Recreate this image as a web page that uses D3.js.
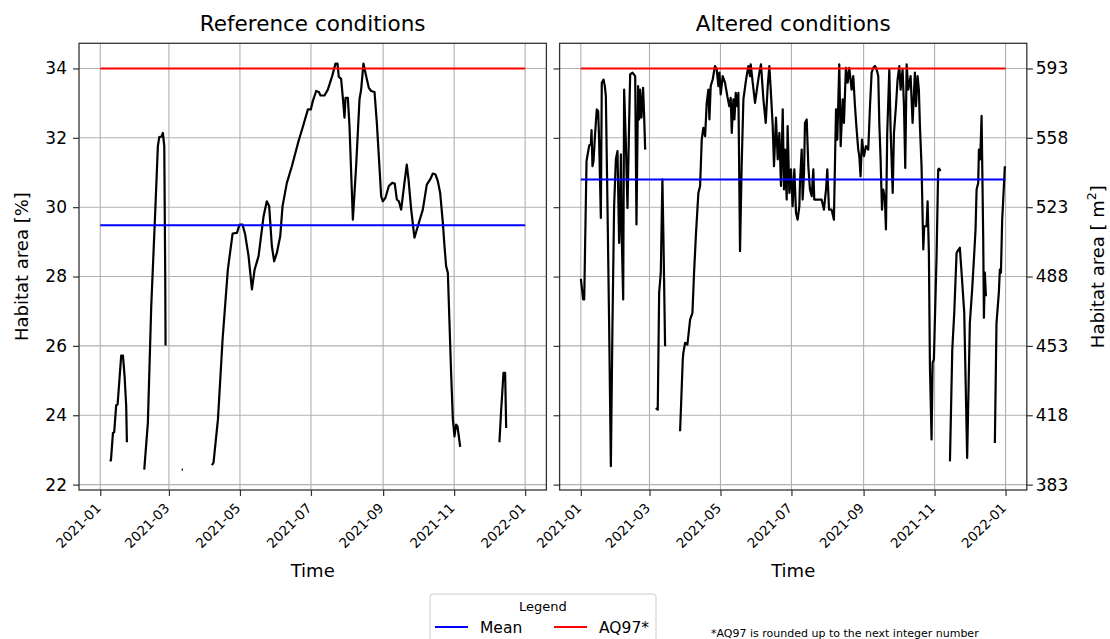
<!DOCTYPE html>
<html>
<head>
<meta charset="utf-8">
<script src="https://cdn.jsdelivr.net/npm/d3@7"></script>
<style>
  body { margin: 0; background: #fff; }
  text { font-family: 'DejaVu Sans', sans-serif; fill: #000; }
</style>
</head>
<body>
<script>
// day offsets from 2021-01-01 and habitat area [%], one array per unbroken stretch of the series
const refSegments = [
  [[8.0,22.70],[9.2,22.70],[10.9,23.49],[12.0,23.51],[13.7,24.29],[14.9,24.31],[18.0,25.72],[19.5,25.72],[20.9,25.13],[22.3,24.26],[22.9,23.22]],
  [[37.8,22.43],[40.9,23.78],[43.8,27.14],[47.2,29.84],[49.5,31.76],[50.7,32.02],[52.7,32.04],[53.8,32.14],[55.0,31.76],[55.8,28.11],[56.1,26.01]],
  [[70.0,22.43],[71.0,22.43]],
  [[95.9,22.56],[97.3,22.63],[101.1,23.88],[105.1,26.19],[109.6,28.20],[113.7,29.24],[117.4,29.26],[119.7,29.50],[122.2,29.50],[124.5,29.21],
   [127.4,28.59],[130.3,27.63],[132.6,28.20],[136.0,28.59],[140.3,29.74],[143.1,30.17],[145.1,30.03],[147.4,28.88],[149.4,28.44],[151.7,28.68],
   [154.6,29.16],[156.6,30.03],[160.3,30.70],[164.6,31.18],[170.3,31.90],[173.8,32.29],[178.4,32.82],[180.9,32.82],[182.6,33.06],[185.5,33.35],
   [187.8,33.32],[189.2,33.22],[192.6,33.22],[195.5,33.39],[199.2,33.78],[202.1,34.14],[203.8,34.14],[204.9,33.76],[206.9,33.70],[208.4,33.15],
   [209.8,32.58],[210.7,33.15],[212.7,33.15],[214.1,32.34],[217.0,29.64],[219.8,31.18],[222.7,33.11],[224.1,33.39],[226.1,34.14],[228.4,33.78],
   [230.7,33.44],[232.7,33.35],[235.6,33.32],[237.6,32.43],[239.3,31.47],[241.3,30.32],[242.7,30.17],[245.0,30.27],[247.9,30.61],[250.8,30.70],
   [253.0,30.68],[254.8,30.22],[256.5,30.17],[258.5,29.93],[261.3,30.70],[263.3,31.23],[264.8,30.80],[267.1,29.93],[269.9,29.12],[272.8,29.45],
   [277.1,29.93],[280.5,30.65],[283.4,30.80],[285.7,30.97],[288.0,30.94],[290.0,30.75],[292.0,30.41],[294.3,29.55],[295.7,28.88],[297.1,28.30],
   [298.6,28.11],[300.0,26.66],[301.4,25.22],[302.9,23.88],[304.3,23.39],[305.7,23.73],[306.9,23.68],[309.2,23.09]],
  [[342.9,23.22],[344.4,24.16],[346.4,25.22],[347.8,25.22],[348.7,23.63]]
];

const altSegments = [
  [[0,27.93],[2.0,27.34],[2.9,27.34],[4.9,31.33],[7.2,31.78],[8.6,31.81],[9.2,32.22],[10.0,31.18],[10.9,31.33],[12.3,32.14],
   [13.7,32.82],[14.9,32.77],[15.7,31.95],[17.2,29.69],[18.0,33.59],[19.5,33.68],[20.6,33.49],[21.5,33.20],[22.9,30.03],[24.3,26.66],
   [25.8,22.53],[27.2,26.66],[28.6,30.03],[30.1,31.38],[31.5,31.62],[32.9,28.97],[33.8,30.03],[34.4,31.52],[35.2,29.07],[36.4,27.34],
   [37.2,33.39],[38.6,31.95],[40.1,29.98],[41.5,32.43],[42.4,33.83],[44.4,33.88],[46.7,33.78],[47.8,29.50],[49.2,33.49],[50.1,32.53],
   [50.9,33.39],[52.1,32.58],[53.5,33.44],[54.4,32.63],[55.3,31.66]],
  [[64.4,24.21],[66.1,24.16],[67.3,27.53],[68.7,28.11],[70.1,30.80],[71.0,29.07],[72.4,25.99]],
  [[85.3,23.54],[87.6,25.61],[88.1,25.80],[89.6,26.09],[91.6,26.04],[93.9,26.76],[95.9,26.95],[97.3,28.11],[99.0,29.26],[101.0,30.41],
   [102.5,30.61],[103.9,31.95],[105.3,32.29],[106.8,32.05],[108.2,33.01],[109.6,33.39],[110.5,32.53],[111.6,33.49],[113.3,33.68],[115.3,34.07],
   [116.8,33.97],[118.2,33.49],[119.1,33.88],[120.2,33.25],[121.9,33.78],[123.9,33.59],[125.9,33.20],[127.6,32.91],[128.8,33.15],[129.7,32.14],
   [131.1,33.11],[132.0,32.53],[133.1,33.30],[134.5,32.91],[135.4,33.30],[136.8,28.73],[138.2,31.18],[139.7,33.11],[142.0,33.68],[144.0,34.07],
   [145.4,33.78],[146.0,34.12],[147.7,33.59],[149.7,33.01],[151.7,33.49],[153.4,33.88],[154.8,34.12],[156.9,33.11],[158.9,32.43],[160.6,33.49],
   [162.0,34.07],[163.2,33.39],[164.9,32.34],[166.0,31.18],[167.7,32.58],[169.2,31.38],[170.6,32.14],[172.0,30.61],[173.5,32.82],[174.6,30.51],
   [175.5,31.66],[176.9,30.22],[177.7,32.34],[179.2,30.41],[180.6,31.09],[182.0,30.03],[183.5,31.09],[184.9,29.84],[186.3,29.64],[187.8,30.03],
   [188.3,30.70],[189.8,31.66],[190.6,30.22],[191.8,30.99],[192.6,32.43],[194.1,32.53],[195.5,31.18],[196.9,30.51],[198.4,30.32],[199.8,31.09],
   [200.6,30.22],[204.1,30.22],[206.9,30.22],[208.9,29.93],[210.7,30.51],[211.8,31.09],[213.3,29.93],[215.5,29.93],[217.5,29.64],[218.4,31.28],
   [219.3,32.82],[220.4,31.95],[222.1,34.12],[223.3,31.76],[225.0,33.11],[226.1,32.43],[227.8,34.02],[229.3,33.59],[230.7,34.02],[232.7,33.39],
   [234.1,33.78],[235.6,32.91],[237.0,32.24],[238.4,31.66],[239.3,31.47],[240.4,30.89],[241.6,31.95],[243.3,31.47],[245.0,31.76],[247.0,31.66],
   [248.5,32.91],[249.9,33.88],[251.3,34.02],[252.8,34.07],[254.2,33.97],[255.6,33.78],[256.5,32.43],[257.6,31.38],[258.8,29.93],[259.9,30.51],
   [261.3,30.22],[262.2,29.36],[263.3,32.14],[265.1,33.97],[266.2,32.24],[268.0,30.41],[269.1,32.14],[270.8,32.91],[272.2,33.68],[273.7,34.07],
   [274.8,33.39],[276.5,33.97],[277.7,32.91],[278.8,31.13],[280.0,34.12],[281.4,33.39],[283.4,33.78],[285.1,32.43],[287.1,33.88],[288.0,32.91],
   [289.4,33.78],[290.5,33.39],[291.4,32.34],[292.8,31.18],[294.3,28.78],[295.1,29.45],[297.1,29.45],[298.0,30.17],[299.1,28.68],[300.0,25.41],
   [301.4,23.30],[302.3,25.51],[303.4,25.61],[305.7,28.59],[307.1,31.09],[308.0,31.11],[309.1,31.04]],
  [[317.2,22.67],[319.2,25.89],[320.9,26.95],[322.9,28.68],[324.3,28.76],[325.7,28.83],[327.2,28.11],[329.5,26.95],[332.0,22.77],[334.3,26.66],
   [336.3,27.63],[338.1,28.68],[339.2,29.36],[340.1,30.51],[341.5,30.70],[342.1,31.66],[343.2,31.38],[344.4,32.63],[345.8,29.07],[346.4,26.81],
   [347.2,28.11],[348.1,27.43]],
  [[355.8,23.20],[357.2,26.66],[359.2,27.53],[360.1,28.20],[361.0,28.11],[362.1,29.64],[363.0,30.22],[364.4,31.18]]
];

const refMean = 29.48;
const altMean = 30.80;
const aq97 = 34;
const yTicks = [22, 24, 26, 28, 30, 32, 34];
const altTickLabels = ['383', '418', '453', '488', '523', '558', '593'];
const panelTitles = ['Reference conditions', 'Altered conditions'];
const legendNames = ['Mean', 'AQ97*'];
const legendColors = ['#0000ff', '#ff0000'];

const width = 1110;
const height = 639;
const start = new Date(2021, 0, 1);
const dayToDate = d => new Date(start.getTime() + d * 864e5);

// create the svg element
const svg = d3.select('body')
  .append('svg')
  .attr('width', width)
  .attr('height', height);

// shared scales: x spans the year with 5% padding, y spans all values with 5% padding
const pad = 365 * 0.05;
const allValues = refSegments.concat(altSegments).flat().map(d => d[1]);
const yMin = d3.min(allValues), yMax = d3.max(allValues);
const yPad = (yMax - yMin) * 0.05;
const plotTop = 43.3, plotBottom = 490;

const yScale = d3.scaleLinear()
  .domain([yMin - yPad, yMax + yPad])
  .range([plotBottom, plotTop]);

function drawPanel(x0, x1, segments, mean, title, side) {
  const xScale = d3.scaleTime()
    .domain([dayToDate(-pad), dayToDate(365 + pad)])
    .range([x0, x1]);
  const xTicks = d3.timeMonth.every(2).range(new Date(2021, 0, 1), new Date(2022, 0, 2));

  const g = svg.append('g');

  // grid lines
  g.append('g')
    .selectAll('line')
    .data(xTicks)
    .join('line')
    .attr('x1', d => xScale(d)).attr('x2', d => xScale(d))
    .attr('y1', plotTop).attr('y2', plotBottom)
    .attr('stroke', '#b0b0b0').attr('stroke-width', 1.1);
  g.append('g')
    .selectAll('line')
    .data(yTicks)
    .join('line')
    .attr('x1', x0).attr('x2', x1)
    .attr('y1', d => yScale(d)).attr('y2', d => yScale(d))
    .attr('stroke', '#b0b0b0').attr('stroke-width', 1.1);

  // the series itself, one path per stretch
  const line = d3.line()
    .x(d => xScale(dayToDate(d[0])))
    .y(d => yScale(d[1]));
  g.append('g')
    .selectAll('path')
    .data(segments)
    .join('path')
    .attr('d', line)
    .attr('fill', 'none')
    .attr('stroke', '#000')
    .attr('stroke-width', 2.2)
    .attr('stroke-linejoin', 'round');

  // mean and AQ97 lines
  [[mean, legendColors[0]], [aq97, legendColors[1]]].forEach(([v, c]) => {
    g.append('line')
      .attr('x1', xScale(dayToDate(0))).attr('x2', xScale(dayToDate(365)))
      .attr('y1', yScale(v)).attr('y2', yScale(v))
      .attr('stroke', c).attr('stroke-width', 2);
  });

  // frame
  g.append('rect')
    .attr('x', x0).attr('y', plotTop)
    .attr('width', x1 - x0).attr('height', plotBottom - plotTop)
    .attr('fill', 'none').attr('stroke', '#333').attr('stroke-width', 1.3);

  // x axis
  const xAxis = d3.axisBottom(xScale)
    .tickValues(xTicks)
    .tickFormat(d3.timeFormat('%Y-%m'))
    .tickSize(6)
    .tickPadding(6);
  const xg = g.append('g')
    .attr('transform', `translate(0, ${plotBottom})`)
    .call(xAxis);
  xg.select('.domain').remove();
  xg.selectAll('line').attr('stroke', '#333').attr('stroke-width', 1.2);
  xg.selectAll('text')
    .style('font-size', '13.5px')
    .style('font-family', "'DejaVu Sans', sans-serif")
    .style('text-anchor', 'end')
    .attr('dy', null)
    .attr('y', 0)
    .attr('transform', 'translate(1, 19) rotate(-45)');

  // y axes: left side always has ticks, labels only on the outer side
  const yLeft = d3.axisLeft(yScale).tickValues(yTicks).tickSize(6).tickPadding(6)
    .tickFormat(side === 'left' ? d => d : () => '');
  const yl = g.append('g').attr('transform', `translate(${x0},0)`).call(yLeft);
  yl.select('.domain').remove();
  yl.selectAll('line').attr('stroke', '#333').attr('stroke-width', 1.2);
  yl.selectAll('text').style('font-size', '17px').style('font-family', "'DejaVu Sans', sans-serif");

  if (side === 'right') {
    const yRight = d3.axisRight(yScale).tickValues(yTicks).tickSize(6).tickPadding(3)
      .tickFormat((d, i) => altTickLabels[i]);
    const yr = g.append('g').attr('transform', `translate(${x1},0)`).call(yRight);
    yr.select('.domain').remove();
    yr.selectAll('line').attr('stroke', '#333').attr('stroke-width', 1.2);
    yr.selectAll('text').style('font-size', '17px').style('font-family', "'DejaVu Sans', sans-serif");
  }

  // title and x label
  g.append('text')
    .attr('x', (x0 + x1) / 2).attr('y', 31)
    .attr('text-anchor', 'middle')
    .style('font-size', '21.5px')
    .text(title);
  g.append('text')
    .attr('x', (x0 + x1) / 2).attr('y', 577)
    .attr('text-anchor', 'middle')
    .style('font-size', '18px')
    .text('Time');
}

drawPanel(79, 546.4, refSegments, refMean, panelTitles[0], 'left');
drawPanel(559.6, 1026.8, altSegments, altMean, panelTitles[1], 'right');

// y labels
svg.append('text')
  .attr('transform', `translate(28, ${(plotTop + plotBottom) / 2}) rotate(-90)`)
  .attr('text-anchor', 'middle')
  .style('font-size', '18px')
  .text('Habitat area [%]');

const rl = svg.append('text')
  .attr('transform', `translate(1104, ${(plotTop + plotBottom) / 2}) rotate(-90)`)
  .attr('text-anchor', 'middle')
  .style('font-size', '18px');
rl.append('tspan').text('Habitat area [ m');
rl.append('tspan').attr('dy', -8).style('font-size', '12.5px').text('2');
rl.append('tspan').attr('dy', 8).text(']');

// legend
const lg = svg.append('g');
lg.append('rect')
  .attr('x', 430).attr('y', 594)
  .attr('width', 226).attr('height', 60)
  .attr('rx', 3)
  .attr('fill', '#fff')
  .attr('stroke', '#cccccc');
lg.append('text')
  .attr('x', 543).attr('y', 610.5)
  .attr('text-anchor', 'middle')
  .style('font-size', '13px')
  .text('Legend');
legendNames.forEach((name, i) => {
  const lx = 435 + i * 119;
  lg.append('line')
    .attr('x1', lx).attr('x2', lx + 33)
    .attr('y1', 627).attr('y2', 627)
    .attr('stroke', legendColors[i]).attr('stroke-width', 2);
  lg.append('text')
    .attr('x', lx + 45).attr('y', 632.5)
    .style('font-size', '15.5px')
    .text(name);
});

// footnote
svg.append('text')
  .attr('x', 711).attr('y', 637)
  .style('font-size', '11px')
  .text('*AQ97 is rounded up to the next integer number');
</script>
</body>
</html>
